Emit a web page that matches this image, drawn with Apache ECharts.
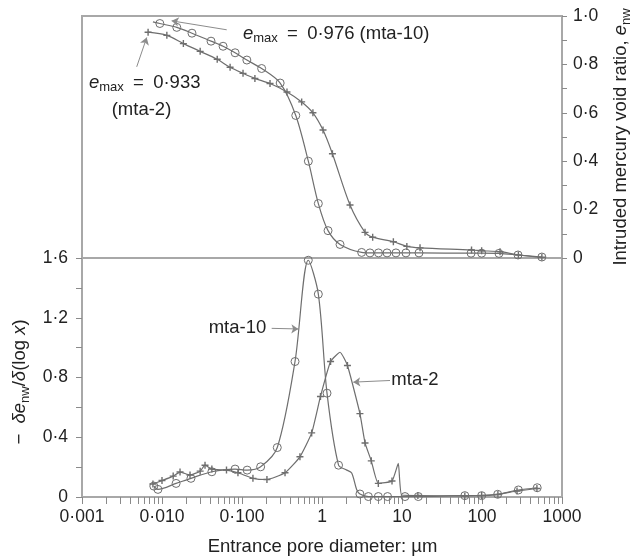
<!DOCTYPE html>
<html><head><meta charset="utf-8">
<script src="https://cdn.jsdelivr.net/npm/echarts/dist/echarts.min.js"></script>
<style>html,body{margin:0;padding:0;background:#fff}#c{width:632px;height:560px}</style>
</head><body><div id="c"></div>
<script>
// ---- tick labels ----
const xTickValues = [0.001, 0.01, 0.1, 1, 10, 100, 1000];
const xTickLabels = ['0·001', '0·010', '0·100', '1', '10', '100', '1000'];
const yTopTickLabels = ['0', '0·2', '0·4', '0·6', '0·8', '1·0'];
const yBottomTickLabels = ['0', '0·4', '0·8', '1·2', '1·6'];

// ---- top panel: intruded mercury void ratio ----
const topMta10X = [0.0077, 0.0094, 0.0153, 0.0237, 0.041, 0.058, 0.082, 0.115, 0.176, 0.30, 0.47, 0.675, 0.90, 1.19, 1.68, 3.13, 3.98, 5.08, 6.5, 8.4, 11.2, 16.3, 73, 99, 163, 282, 560];
const topMta10Y = [0.976, 0.969, 0.953, 0.929, 0.896, 0.875, 0.848, 0.818, 0.783, 0.723, 0.589, 0.40, 0.225, 0.113, 0.056, 0.023, 0.021, 0.021, 0.021, 0.021, 0.021, 0.021, 0.02, 0.02, 0.019, 0.0125, 0.004];
const topMta10NoMarker = [0.0077];
const topMta2X = [0.0067, 0.0115, 0.0185, 0.030, 0.049, 0.071, 0.103, 0.145, 0.224, 0.365, 0.557, 0.77, 1.03, 1.35, 2.24, 3.45, 4.3, 7.8, 11.5, 16.8, 74, 99, 168, 285, 560];
const topMta2Y = [0.933, 0.92, 0.886, 0.854, 0.821, 0.788, 0.763, 0.742, 0.721, 0.686, 0.645, 0.60, 0.529, 0.431, 0.219, 0.106, 0.086, 0.067, 0.048, 0.042, 0.033, 0.030, 0.026, 0.0125, 0.003];
const topMta2NoMarker = [];

// ---- bottom panel: -de/d(log x) ----
const botMta10X = [0.0079, 0.0089, 0.015, 0.023, 0.042, 0.082, 0.116, 0.171, 0.276, 0.46, 0.674, 0.90, 1.155, 1.61, 2.04, 2.35, 2.71, 2.98, 3.8, 5.06, 6.6, 10.9, 16, 61, 99, 157, 285, 490];
const botMta10Y = [0.073, 0.051, 0.091, 0.125, 0.169, 0.187, 0.18, 0.202, 0.331, 0.907, 1.585, 1.358, 0.695, 0.213, 0.18, 0.16, 0.05, 0.02, 0.003, 0.003, 0.003, 0.003, 0.003, 0.009, 0.009, 0.018, 0.047, 0.062];
const botMta10NoMarker = [2.04, 2.35, 2.71];
const botMta2X = [0.0077, 0.010, 0.0138, 0.0168, 0.0224, 0.030, 0.0345, 0.042, 0.064, 0.089, 0.137, 0.205, 0.345, 0.53, 0.743, 0.957, 1.28, 1.68, 2.08, 2.98, 3.45, 4.13, 5.06, 7.5, 8.99, 9.9, 15.8, 61, 99, 158, 274, 486];
const botMta2Y = [0.087, 0.11, 0.14, 0.167, 0.147, 0.173, 0.213, 0.187, 0.18, 0.162, 0.125, 0.117, 0.162, 0.269, 0.429, 0.673, 0.907, 0.969, 0.88, 0.558, 0.362, 0.242, 0.091, 0.107, 0.225, 0.013, 0.01, 0.007, 0.01, 0.017, 0.04, 0.057];
const botMta2NoMarker = [1.68, 8.99, 9.9];

// ---- annotation arrows (data coords: [from, to]) ----
const arrowTop10 = [[0.0644, 0.943], [0.0132, 0.980]];
const arrowTop2 = [[0.00483, 0.79], [0.00644, 0.911]];
const arrowBot10 = [[0.235, 1.129], [0.506, 1.125]];
const arrowBot2 = [[7.08, 0.78], [2.46, 0.769]];

const FF = '"Liberation Sans", Arial, Helvetica, sans-serif';
const TXT = '#222';
const LINE = '#6e6e6e';
const AX = '#a8a8a8';

const pairs = (xs, ys, noMarker) => xs.map((x, i) =>
  noMarker.indexOf(x) >= 0 ? { value: [x, ys[i]], symbol: 'none' } : [x, ys[i]]);
const allTicks = [];
for (let e = -3; e < 3; e++) { for (let m = 1; m < 10; m++) allTicks.push(+(m * Math.pow(10, e)).toPrecision(6)); }
allTicks.push(1000);

const xLabelFmt = v => {
  const i = xTickValues.findIndex(t => Math.abs(Math.log10(t) - Math.log10(v)) < 1e-6);
  return i >= 0 ? xTickLabels[i] : '';
};

const circleStyle = { symbol: 'circle', symbolSize: 8, itemStyle: { color: 'rgba(255,255,255,0)', borderColor: LINE, borderWidth: 1 } };
const CROSS = 'path://M4,0H6V4H10V6H6V10H4V6H0V4H4Z';
const crossStyle = { symbol: CROSS, symbolSize: 7, itemStyle: { color: LINE } };

const arrowML = (a) => ({
  silent: true, symbol: ['none', 'arrow'], symbolSize: 7, animation: false,
  label: { show: false },
  lineStyle: { color: '#8c8c8c', width: 1, type: 'solid' },
  emphasis: { disabled: true },
  data: [[{ coord: a[0] }, { coord: a[1] }]]
});

const rich = {
  i: { fontStyle: 'italic', fontSize: 18.5, lineHeight: 23, fontFamily: FF, color: TXT, fill: TXT },
  n: { fontSize: 18.5, lineHeight: 23, fontFamily: FF, color: TXT, fill: TXT },
  s: { fontSize: 13, lineHeight: 13, padding: [10, 0, 0, 0], verticalAlign: 'top', fontFamily: FF, color: TXT, fill: TXT }
};
const txt = (x, y, text, align, rot) => ({
  type: 'text', x: x, y: y, rotation: rot || 0, silent: true,
  style: { text: text, rich: rich, fontSize: 18.5, fontFamily: FF, fill: TXT,
    align: align, textAlign: align, verticalAlign: 'middle', textVerticalAlign: 'middle' }
});

const chart = echarts.init(document.getElementById('c'), null, { renderer: 'canvas' });
chart.setOption({
  animation: false,
  backgroundColor: '#fff',
  grid: [
    { left: 82, right: 70, top: 16, height: 242, show: true, borderColor: AX, borderWidth: 2, backgroundColor: 'transparent' },
    { left: 82, right: 70, top: 258, height: 239, show: true, borderColor: AX, borderWidth: 2, backgroundColor: 'transparent' }
  ],
  xAxis: [
    { gridIndex: 0, type: 'log', logBase: 10, min: 0.001, max: 1000,
      axisLine: { show: false }, axisTick: { show: false }, axisLabel: { show: false }, splitLine: { show: false } },
    { gridIndex: 1, type: 'log', logBase: 10, min: 0.001, max: 1000, position: 'bottom',
      axisLine: { show: false },
      axisTick: { show: true, inside: false, length: 7, customValues: allTicks, lineStyle: { color: '#8a8a8a', width: 1 } },
      axisLabel: { show: true, customValues: xTickValues, formatter: xLabelFmt, margin: 11, fontSize: 17.5, fontFamily: FF, color: TXT },
      splitLine: { show: false }, minorTick: { show: false } }
  ],
  yAxis: [
    { gridIndex: 0, type: 'value', position: 'right', min: 0, max: 1, interval: 0.2,
      axisLine: { show: false },
      axisTick: { show: true, inside: false, length: 5, lineStyle: { color: '#8a8a8a', width: 1 } },
      minorTick: { show: true, splitNumber: 2, length: 5, lineStyle: { color: '#8a8a8a', width: 1 } },
      axisLabel: { formatter: v => yTopTickLabels[Math.round(v / 0.2)], margin: 11, fontSize: 17.5, fontFamily: FF, color: TXT },
      splitLine: { show: false }, minorSplitLine: { show: false } },
    { gridIndex: 1, type: 'value', position: 'left', min: 0, max: 1.6, interval: 0.4,
      axisLine: { show: false },
      axisTick: { show: true, inside: false, length: 6, lineStyle: { color: '#8a8a8a', width: 1 } },
      minorTick: { show: true, splitNumber: 2, length: 6, lineStyle: { color: '#8a8a8a', width: 1 } },
      axisLabel: { formatter: v => yBottomTickLabels[Math.round(v / 0.4)], margin: 14, fontSize: 17.5, fontFamily: FF, color: TXT },
      splitLine: { show: false }, minorSplitLine: { show: false } }
  ],
  series: [
    Object.assign({ name: 'mta-10 (void ratio)', type: 'line', xAxisIndex: 0, yAxisIndex: 0, data: pairs(topMta10X, topMta10Y, topMta10NoMarker),
      smooth: 0.3, showSymbol: true, showAllSymbol: true, lineStyle: { color: LINE, width: 1.2 }, markLine: arrowML(arrowTop10) }, circleStyle),
    Object.assign({ name: 'mta-2 (void ratio)', type: 'line', xAxisIndex: 0, yAxisIndex: 0, data: pairs(topMta2X, topMta2Y, topMta2NoMarker),
      smooth: 0.3, showSymbol: true, showAllSymbol: true, lineStyle: { color: LINE, width: 1.2 }, markLine: arrowML(arrowTop2) }, crossStyle),
    Object.assign({ name: 'mta-10 (derivative)', type: 'line', xAxisIndex: 1, yAxisIndex: 1, data: pairs(botMta10X, botMta10Y, botMta10NoMarker),
      smooth: 0.3, showSymbol: true, showAllSymbol: true, lineStyle: { color: LINE, width: 1.2 }, markLine: arrowML(arrowBot10) }, circleStyle),
    Object.assign({ name: 'mta-2 (derivative)', type: 'line', xAxisIndex: 1, yAxisIndex: 1, data: pairs(botMta2X, botMta2Y, botMta2NoMarker),
      smooth: 0.15, showSymbol: true, showAllSymbol: true, lineStyle: { color: LINE, width: 1.2 }, markLine: arrowML(arrowBot2) }, crossStyle)
  ],
  graphic: [
    txt(243, 33.5, '{i|e}{s|max}{n|\u2002=\u20020·976 (mta-10)}', 'left'),
    txt(89, 82.5, '{i|e}{s|max}{n|\u2002=\u20020·933}', 'left'),
    txt(141.5, 110, '{n|(mta-2)}', 'center'),
    txt(237.5, 328, '{n|mta-10}', 'center'),
    txt(415, 380, '{n|mta-2}', 'center'),
    txt(322.5, 547, '{n|Entrance pore diameter: µm}', 'center'),
    txt(621, 137, '{n|Intruded mercury void ratio, }{i|e}{s|nw}', 'center', Math.PI / 2),
    txt(20, 382, '{n|−  }{i|δe}{s|nw}{n|/}{i|δ}{n|(log }{i|x}{n|)}', 'center', Math.PI / 2)
  ]
});
</script></body></html>
